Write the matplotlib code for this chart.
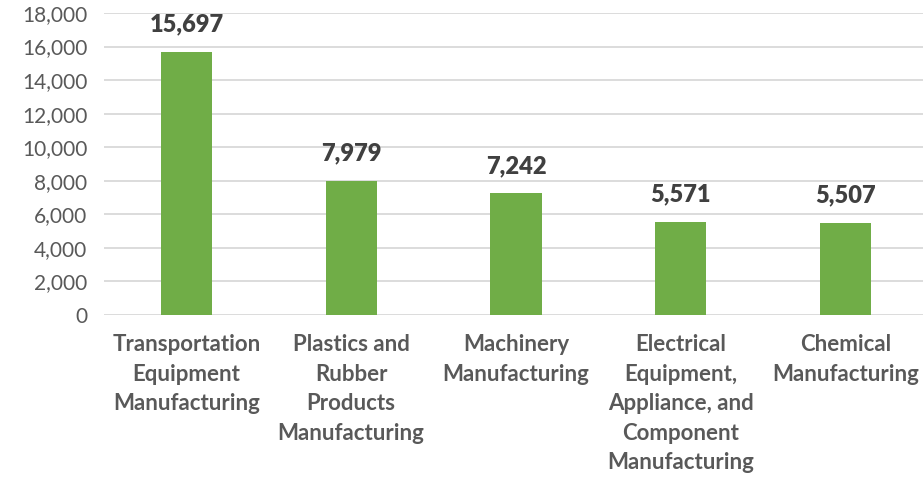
import numpy as np
import matplotlib.pyplot as plt
from matplotlib.ticker import FuncFormatter

# Data
categories = [
    'Transportation\nEquipment\nManufacturing',
    'Plastics and\nRubber\nProducts\nManufacturing',
    'Machinery\nManufacturing',
    'Electrical\nEquipment,\nAppliance, and\nComponent\nManufacturing',
    'Chemical\nManufacturing',
]
values = [15697, 7979, 7242, 5571, 5507]
y_ticks = list(range(0, 18001, 2000))

plt.rcParams['font.family'] = ['Lato', 'DejaVu Sans']

W, H = 923, 478
fig = plt.figure(figsize=(W / 100, H / 100), dpi=100)
ax = fig.add_axes([104 / W, 1 - 315 / H, (W - 104) / W, (315 - 13) / H])

x = np.arange(len(values))
ax.bar(x, values, width=0.31, color='#70AD47', zorder=3)

for xi, v in zip(x, values):
    ax.annotate(f'{v:,}', (xi, v), xytext=(0, 12), textcoords='offset points',
                ha='center', va='bottom', fontsize=17, fontweight='heavy',
                color='#404040')

ax.set_ylim(0, 18000)
ax.set_xlim(-0.5, 4.47)
ax.set_yticks(y_ticks)
ax.yaxis.set_major_formatter(FuncFormatter(lambda v, p: f'{int(v):,}'))
ax.set_xticks(x)
ax.set_xticklabels(categories, fontsize=16, fontweight='bold', color='#595959',
                   linespacing=1.5)
ax.tick_params(axis='y', labelsize=15, labelcolor='#595959', length=0, pad=12)
ax.tick_params(axis='x', length=0, pad=14)
ax.grid(axis='y', color='#D9D9D9', linewidth=1.3, zorder=0)
for s in ax.spines.values():
    s.set_visible(False)

fig.savefig('out.png', dpi=100)
